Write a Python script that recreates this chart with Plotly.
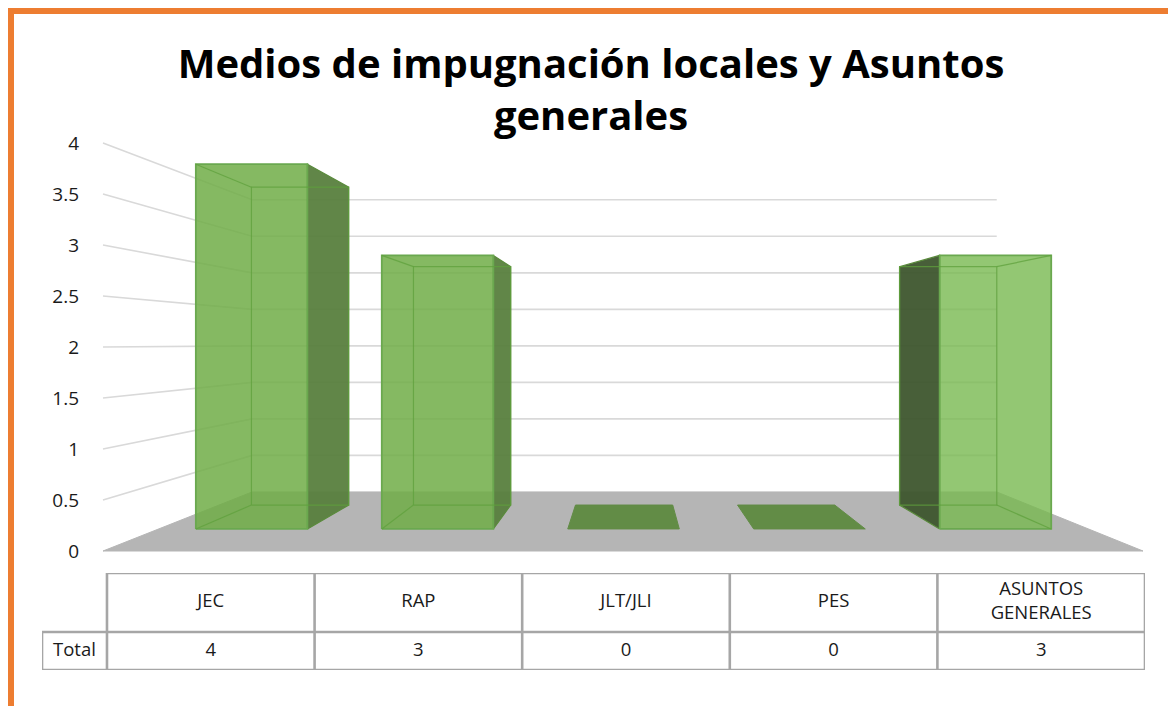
import plotly.graph_objects as go

# ---------------- data ----------------
categories = ["JEC", "RAP", "JLT/JLI", "PES", "ASUNTOS GENERALES"]
table_labels = ["JEC", "RAP", "JLT/JLI", "PES", "ASUNTOS<br>GENERALES"]
totals = [4, 3, 0, 0, 3]
series_name = "Total"
y_ticks = [0, 0.5, 1, 1.5, 2, 2.5, 3, 3.5, 4]
y_tick_labels = ["0", "0.5", "1", "1.5", "2", "2.5", "3", "3.5", "4"]
title_text = "Medios de impugnación locales y Asuntos<br>generales"

# ---------------- perspective geometry (axis units) ----------------
N = len(categories)
VX, VY = 2.524, 2.039      # vanishing point (category units, value units)
S_BACK = 0.716             # scale of the back wall
S_BAR_F = 0.894            # scale of bar front faces
S_BAR_B = 0.779            # scale of bar back faces
HALF_W = 0.3               # half bar width (category units)

FONT = "Open Sans"
OFF = 8                    # page body margin
W, H = 1168, 698
ML, MR, MT, MB = 22, 2, 122, 12
PW, PH = W - ML - MR, H - MT - MB


def px_x(p):
    return (p - OFF - ML) / PW


def px_y(p):
    return (H - MB - (p - OFF)) / PH


def proj(u, h, s):
    return VX + (u - VX) * s, VY + (h - VY) * s


def poly(pts):
    xs = [p[0] for p in pts] + [pts[0][0]]
    ys = [p[1] for p in pts] + [pts[0][1]]
    return xs, ys


fig = go.Figure()

# floor
floor = [proj(0, 0, 1), proj(N, 0, 1), proj(N, 0, S_BACK), proj(0, 0, S_BACK)]
fx, fy = poly(floor)
fig.add_trace(go.Scatter(x=fx, y=fy, fill="toself", mode="lines",
                         fillcolor="#b5b5b5", line=dict(color="#b5b5b5", width=1),
                         hoverinfo="skip"))

# gridlines (left wall + back wall)
gx, gy = [], []
for t in y_ticks:
    if t == 0:
        continue
    for p in (proj(0, t, 1), proj(0, t, S_BACK), proj(N, t, S_BACK)):
        gx.append(p[0]); gy.append(p[1])
    gx.append(None); gy.append(None)
fig.add_trace(go.Scatter(x=gx, y=gy, mode="lines",
                         line=dict(color="#d9d9d9", width=1.6), hoverinfo="skip"))

# bars
for i, v in enumerate(totals):
    uc = i + 0.5
    uL, uR = uc - HALF_W, uc + HALF_W
    if v == 0:
        top = [proj(uL, 0, S_BAR_F), proj(uR, 0, S_BAR_F),
               proj(uR, 0, S_BAR_B), proj(uL, 0, S_BAR_B)]
        tx, ty = poly(top)
        fig.add_trace(go.Scatter(x=tx, y=ty, fill="toself", mode="lines",
                                 fillcolor="#628c46", line=dict(color="#628c46", width=1),
                                 hoverinfo="skip"))
        continue
    right_visible = uc < VX
    us = uR if right_visible else uL
    uo = uL if right_visible else uR
    side = [proj(us, 0, S_BAR_F), proj(us, v, S_BAR_F),
            proj(us, v, S_BAR_B), proj(us, 0, S_BAR_B)]
    sx, sy = poly(side)
    side_col = "rgba(88,128,62,0.95)" if right_visible else "rgba(62,86,46,0.95)"
    fig.add_trace(go.Scatter(x=sx, y=sy, fill="toself", mode="lines",
                             fillcolor=side_col, line=dict(color="#5a8a3c", width=1.2),
                             hoverinfo="skip"))
    if v < VY:
        top = [proj(uL, v, S_BAR_F), proj(uR, v, S_BAR_F),
               proj(uR, v, S_BAR_B), proj(uL, v, S_BAR_B)]
        tx, ty = poly(top)
        fig.add_trace(go.Scatter(x=tx, y=ty, fill="toself", mode="lines",
                                 fillcolor="rgba(112,173,71,0.9)",
                                 line=dict(color="#6aa84f", width=1), hoverinfo="skip"))
    front_col = "rgba(112,173,71,0.85)" if right_visible else "rgba(120,185,80,0.8)"
    front = [proj(uL, 0, S_BAR_F), proj(uR, 0, S_BAR_F),
             proj(uR, v, S_BAR_F), proj(uL, v, S_BAR_F)]
    frx, fry = poly(front)
    fig.add_trace(go.Scatter(x=frx, y=fry, fill="toself", mode="lines",
                             fillcolor=front_col,
                             line=dict(color="#6aa84f", width=1.8),
                             hoverinfo="skip"))
    # inner (see-through) edges
    ex, ey = [], []
    back = [proj(uL, 0, S_BAR_B), proj(uR, 0, S_BAR_B),
            proj(uR, v, S_BAR_B), proj(uL, v, S_BAR_B)]
    bx, by = poly(back)
    ex += bx + [None]; ey += by + [None]
    for h in (0, v):
        a, b = proj(uo, h, S_BAR_F), proj(uo, h, S_BAR_B)
        ex += [a[0], b[0], None]; ey += [a[1], b[1], None]
    fig.add_trace(go.Scatter(x=ex, y=ey, mode="lines",
                             line=dict(color="rgba(95,160,60,0.75)", width=1.2),
                             hoverinfo="skip"))

# ---------------- data table ----------------
T_LEFT = -0.313
ROW_H = 38
HEAD_H = 59
lx, ly = [], []
for y0 in (0, ROW_H):
    lx += [T_LEFT, N, None]; ly += [y0, y0, None]
lx += [0, N, None]; ly += [ROW_H + HEAD_H, ROW_H + HEAD_H, None]
for k in range(N + 1):
    lx += [k, k, None]; ly += [0, ROW_H + HEAD_H, None]
lx += [T_LEFT, T_LEFT, None]; ly += [0, ROW_H, None]
fig.add_trace(go.Scatter(x=lx, y=ly, xaxis="x2", yaxis="y2", mode="lines",
                         line=dict(color="#a6a6a6", width=2.6), hoverinfo="skip"))

fig.add_trace(go.Scatter(
    x=[k + 0.5 for k in range(N)] + [k + 0.5 for k in range(N)] + [T_LEFT / 2],
    y=[ROW_H + HEAD_H / 2] * N + [ROW_H / 2] * N + [ROW_H / 2],
    text=table_labels + [str(t) for t in totals] + [series_name],
    mode="text", textposition="middle center",
    textfont=dict(family=FONT, size=18.5, color="#1a1a1a"),
    xaxis="x2", yaxis="y2", hoverinfo="skip"))

# ---------------- layout (screen pixel anchors) ----------------
X0_PX, CAT_PX = 103, 208
Y0_PX, VAL_PX = 551, 102
ax_l, ax_r, ax_t, ax_b = 88, 1160, 132, 560

fig.update_layout(
    width=W, height=H,
    margin=dict(l=ML, r=MR, t=MT, b=MB),
    paper_bgcolor="white", plot_bgcolor="white",
    showlegend=False,
    title=dict(text=title_text, x=(591 - OFF) / W, xref="container", xanchor="center",
               y=1 - 70 / H, yref="container", yanchor="top",
               font=dict(family=FONT, size=40, color="#000000", weight="bold")),
    xaxis=dict(domain=[px_x(ax_l), px_x(ax_r)],
               range=[(ax_l - X0_PX) / CAT_PX, (ax_r - X0_PX) / CAT_PX],
               showgrid=False, zeroline=False, showticklabels=False, showline=False),
    yaxis=dict(domain=[px_y(ax_b), px_y(ax_t)],
               range=[(Y0_PX - ax_b) / VAL_PX, (Y0_PX - ax_t) / VAL_PX],
               showgrid=False, zeroline=False, showline=False,
               tickvals=y_ticks, ticktext=y_tick_labels, ticks="",
               ticklabelstandoff=8,
               tickfont=dict(family=FONT, size=19, color="#1a1a1a")),
    xaxis2=dict(domain=[px_x(42), px_x(1145)], range=[T_LEFT, N], anchor="y2",
                showgrid=False, zeroline=False, showticklabels=False, showline=False),
    yaxis2=dict(domain=[px_y(670), px_y(573)], range=[0, ROW_H + HEAD_H], anchor="x2",
                showgrid=False, zeroline=False, showticklabels=False, showline=False),
    shapes=[dict(type="rect", xref="paper", yref="paper",
                 x0=px_x(10.5), x1=px_x(W + 40), y0=px_y(H + 40), y1=px_y(10.5),
                 line=dict(color="#ed7d31", width=7), fillcolor="rgba(0,0,0,0)",
                 layer="above")],
)

fig.write_html("out.html")
